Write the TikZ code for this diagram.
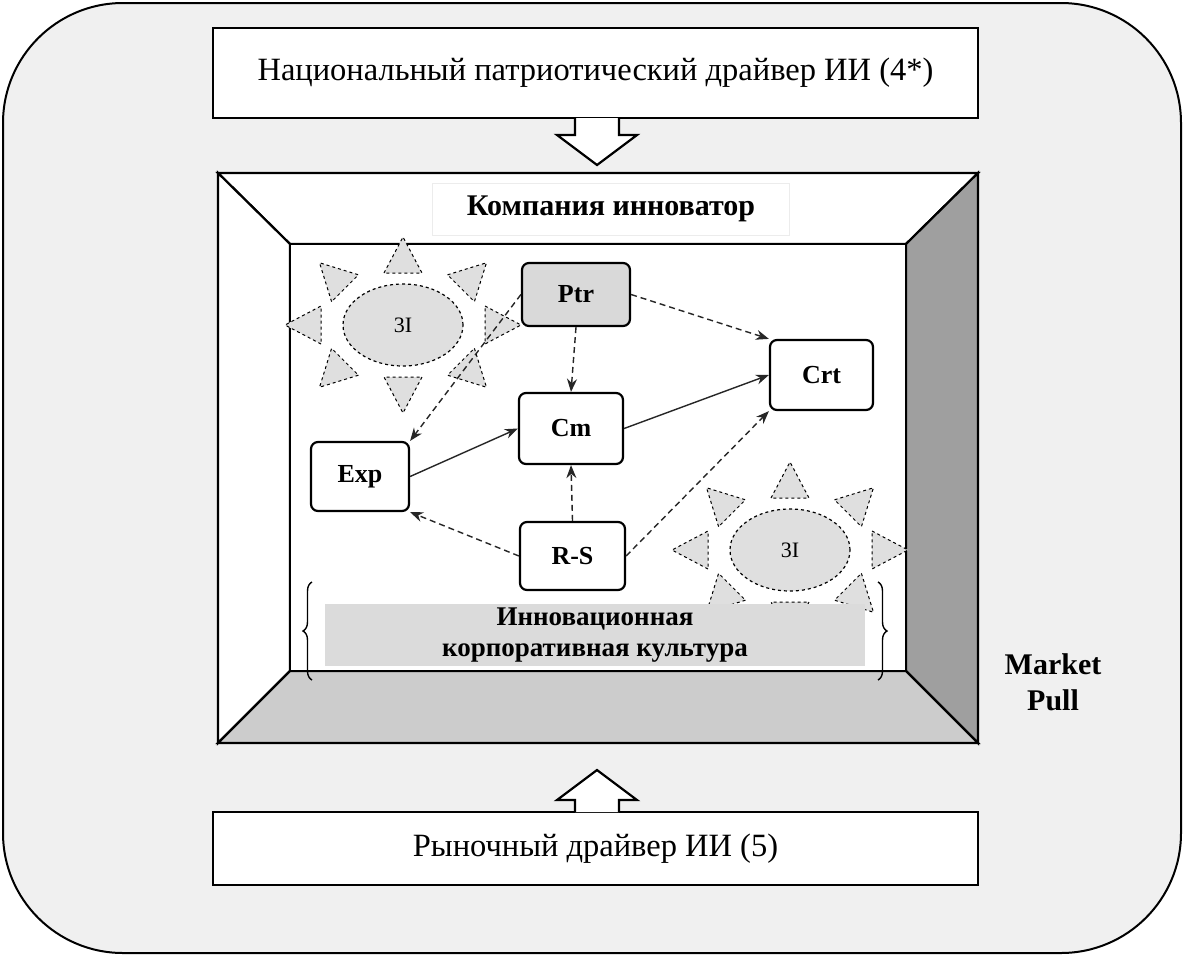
\documentclass[tikz,border=0pt]{standalone}
\usepackage{fontspec}
\setmainfont{Liberation Serif}
\usetikzlibrary{arrows.meta,decorations.pathreplacing,shapes.geometric}
\begin{document}
\begin{tikzpicture}[x=1pt,y=-1pt,
  box/.style={draw,line width=2.2pt,rounded corners=7pt,fill=white,font=\fontsize{26}{30}\selectfont\bfseries,inner sep=0pt},
  da/.style={dashed,dash pattern=on 6pt off 4pt,line width=1.4pt,-{Stealth[length=13pt,width=10pt]},gray!30!black},
  sa/.style={line width=1.4pt,-{Stealth[length=13pt,width=10pt]},gray!30!black},
  tri/.style={draw,dashed,fill=gray!25,line width=1pt},
  big/.style={draw,line width=2.2pt,fill=white,font=\fontsize{32.5}{36}\selectfont}]
\useasboundingbox (0,0) rectangle (1184,956);
\draw[line width=2pt,fill=gray!12,rounded corners=120pt] (3,3) rectangle (1181,953);
\node[big,minimum width=765pt,minimum height=90pt] (top) at (595.5,73) {Национальный патриотический драйвер ИИ (4*)};
\node[big,minimum width=765pt,minimum height=73pt] (bot) at (595.5,848.5) {Рыночный драйвер ИИ (5)};
% hollow arrows
\draw[line width=2.2pt,fill=white] (575,118)--(575,135)--(557,135)--(597,165)--(637,135)--(619,135)--(619,118);
\draw[line width=2.2pt,fill=white] (575,812)--(575,800)--(557,800)--(597,770)--(637,800)--(619,800)--(619,812);
% frame
\draw[line width=2.2pt,fill=white] (218,173)--(978,173)--(906,244)--(290,244)--cycle;
\draw[line width=2.2pt,fill=white] (218,173)--(290,244)--(290,671)--(218,743)--cycle;
\draw[line width=2.2pt,fill=gray!75] (978,173)--(978,743)--(906,671)--(906,244)--cycle;
\draw[line width=2.2pt,fill=gray!40] (218,743)--(290,671)--(906,671)--(978,743)--cycle;
\draw[line width=2.2pt,fill=white] (290,244) rectangle (906,671);
\node[fill=white,draw=gray!15,minimum width=357pt,minimum height=52pt,font=\fontsize{30}{34}\selectfont\bfseries] (comp) at (611,209) {Компания инноватор};
% suns
\foreach \cx/\cy/\n in {403/325/s1,790/550/s2}{
  \foreach \a in {0,45,...,315}{
    \pgfmathsetmacro{\bx}{\cx+82*cos(\a)}
    \pgfmathsetmacro{\by}{\cy+52*sin(\a)}
    \pgfmathsetmacro{\tx}{\cx+(82+36)*cos(\a)}
    \pgfmathsetmacro{\ty}{\cy+(52+36)*sin(\a)}
    \pgfmathsetmacro{\px}{19*sin(\a)}
    \pgfmathsetmacro{\py}{-19*cos(\a)}
    \draw[tri] (\bx+\px,\by+\py)--(\tx,\ty)--(\bx-\px,\by-\py)--cycle;
  }
  \node[ellipse,draw,dashed,fill=gray!25,line width=1.2pt,minimum width=120pt,minimum height=82pt,font=\fontsize{22}{26}\selectfont] (\n) at (\cx,\cy) {3I};
}
% culture
\node[fill=gray!28,minimum width=540pt,minimum height=62pt,align=center,font=\fontsize{27}{31}\selectfont\bfseries,inner sep=0pt] (cult) at (595,635) {Инновационная\\корпоративная культура};
\draw[decorate,decoration={brace,amplitude=9pt},line width=1.4pt] (312,680)--(312,582);
\draw[decorate,decoration={brace,amplitude=9pt},line width=1.4pt] (878,582)--(878,680);
% nodes
\node[box,fill=gray!30,minimum width=108pt,minimum height=63pt] (ptr) at (576,294.5) {Ptr};
\node[box,minimum width=103pt,minimum height=70pt] (crt) at (821.5,375) {Crt};
\node[box,minimum width=104pt,minimum height=71pt] (cm) at (571,428.5) {Cm};
\node[box,minimum width=98pt,minimum height=69pt] (exp) at (360,476.5) {Exp};
\node[box,minimum width=105pt,minimum height=68pt] (rs) at (572.5,556) {R-S};
\draw[da] (ptr.east)--(crt.north west);
\draw[da] (ptr.south)--(cm.north);
\draw[da] (ptr.west)--(exp.north east);
\draw[sa] (exp.east)--(cm.west);
\draw[sa] (cm.east)--(crt.west);
\draw[da] (rs.north)--(cm.south);
\draw[da] (rs.west)--(exp.south east);
\draw[da] (rs.east)--(crt.south west);
\node[align=center,font=\fontsize{30}{36}\selectfont\bfseries] (mp) at (1053,682) {Market\\Pull};
\end{tikzpicture}
\end{document}
